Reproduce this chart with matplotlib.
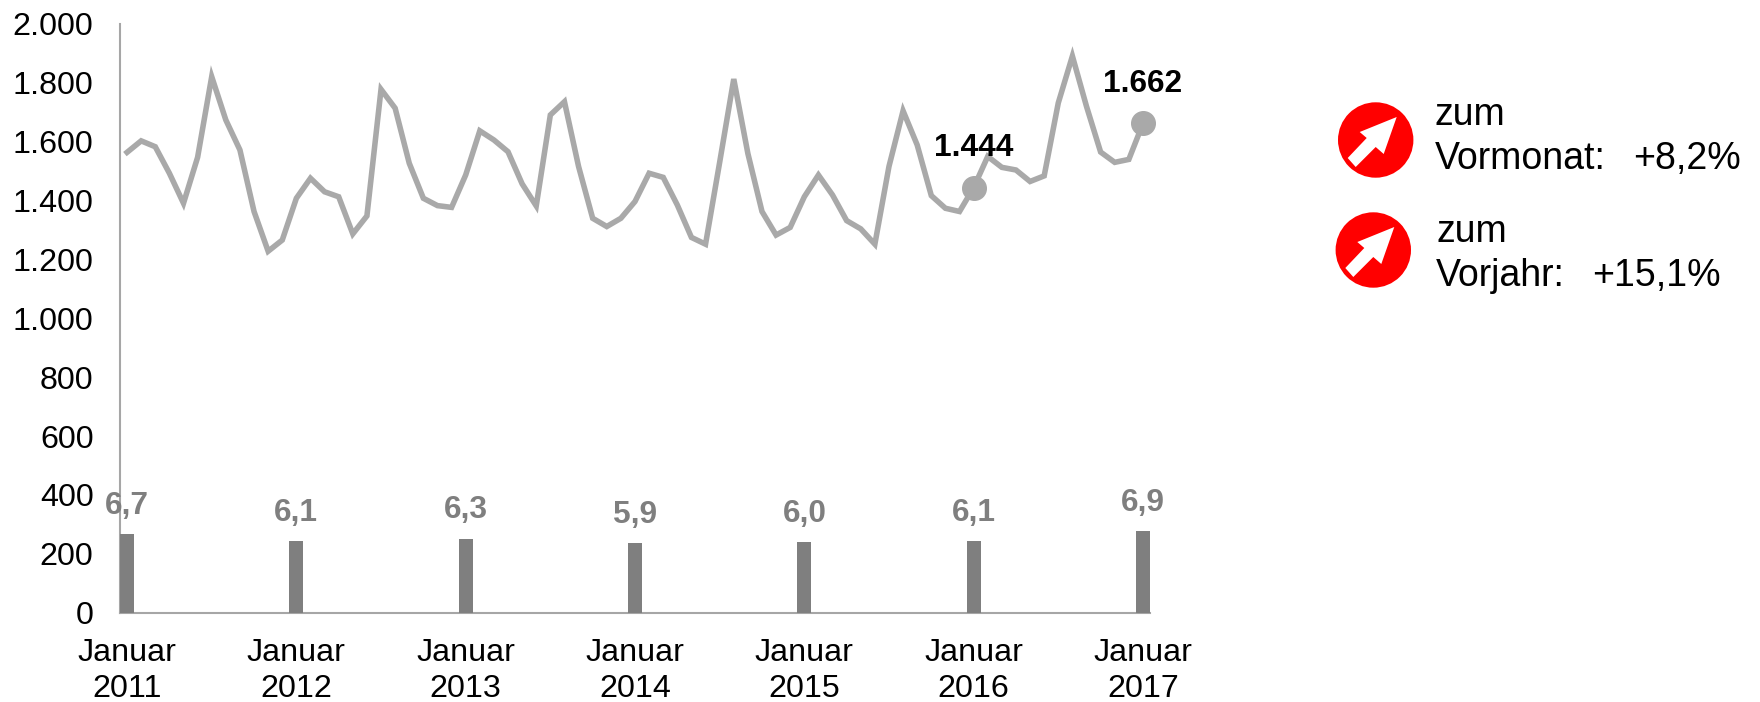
import matplotlib
matplotlib.use("Agg")
import matplotlib.pyplot as plt
from matplotlib.patches import Circle, Polygon

plt.rcParams['font.family'] = ['Liberation Sans', 'DejaVu Sans']

monthly_values = [
    1564, 1603, 1583, 1493, 1391, 1547, 1821, 1674, 1572, 1363, 1228, 1266,
    1408, 1476, 1430, 1413, 1287, 1348, 1778, 1714, 1527, 1408, 1383, 1377,
    1487, 1637, 1606, 1566, 1457, 1382, 1691, 1736, 1516, 1340, 1312, 1340,
    1397, 1493, 1479, 1385, 1275, 1252, 1530, 1813, 1560, 1363, 1283, 1309,
    1413, 1487, 1419, 1332, 1304, 1252, 1516, 1705, 1589, 1417, 1374, 1363,
    1444, 1550, 1513, 1504, 1465, 1484, 1732, 1891, 1720, 1565, 1530, 1540,
    1662,
]
january_rates = [6.7, 6.1, 6.3, 5.9, 6.0, 6.1, 6.9]
january_rate_labels = ['6,7', '6,1', '6,3', '5,9', '6,0', '6,1', '6,9']
january_positions = [0, 12, 24, 36, 48, 60, 72]
x_labels = ['Januar\n2011', 'Januar\n2012', 'Januar\n2013', 'Januar\n2014',
            'Januar\n2015', 'Januar\n2016', 'Januar\n2017']
y_ticks = [0, 200, 400, 600, 800, 1000, 1200, 1400, 1600, 1800, 2000]
y_labels = ['0', '200', '400', '600', '800', '1.000', '1.200', '1.400',
            '1.600', '1.800', '2.000']
highlight_positions = [60, 72]
highlight_labels = ['1.444', '1.662']

W, H = 1760, 702
LINE = '#a9a9a9'
BAR = '#7f7f7f'
FS = 23.2
FS_SIDE = 27
FS_BOLD = 22.8

fig = plt.figure(figsize=(W / 100, H / 100), dpi=100, facecolor='white')
ax = fig.add_axes([120 / W, (H - 612.7) / H, (1150 - 120) / W, (612.7 - 24) / H])
ax.set_xlim(-0.5, 72.5)
ax.set_ylim(0, 2000)
months = list(range(len(monthly_values)))
ax.plot(months, monthly_values, color=LINE, lw=4, solid_joinstyle='miter', zorder=2)
ax.plot(highlight_positions, [monthly_values[i] for i in highlight_positions],
        ls='none', marker='o', ms=17, mfc=LINE, mec=LINE, zorder=3, clip_on=False)
for p, t in zip(highlight_positions, highlight_labels):
    ax.annotate(t, (p, monthly_values[p]), xytext=(0, 17.5), textcoords='offset points',
                ha='center', va='bottom', fontsize=FS_BOLD, fontweight='bold',
                color='black', zorder=4)

for s in ('top', 'right'):
    ax.spines[s].set_visible(False)
for s in ('left', 'bottom'):
    ax.spines[s].set_color('#a6a6a6')
    ax.spines[s].set_linewidth(1.5)
ax.set_yticks(y_ticks, y_labels)
ax.set_xticks(january_positions, x_labels)
ax.tick_params(axis='y', length=0, pad=19, labelsize=FS, labelcolor='black')
ax.tick_params(axis='x', length=0, pad=18, labelsize=FS, labelcolor='black')
for lab in ax.get_xticklabels():
    lab.set_linespacing(1.28)

ax2 = ax.twinx()
ax2.set_ylim(0, 50)
ax2.set_yticks([])
for s in ax2.spines.values():
    s.set_visible(False)
ax2.patch.set_visible(False)
ax2.bar(january_positions, january_rates, width=1.0, color=BAR, zorder=2)
for p, r, t in zip(january_positions, january_rates, january_rate_labels):
    ax2.annotate(t, (p, r), xytext=(0, 9.5), textcoords='offset points', ha='center',
                 va='bottom', fontsize=FS_BOLD, fontweight='bold', color=BAR, zorder=5)

# Overlay in pixel coordinates for the two indicator badges and their text
ov = fig.add_axes([0, 0, 1, 1])
ov.set_xlim(0, W)
ov.set_ylim(H, 0)
ov.axis('off')
ov.patch.set_visible(False)
arrow = [(21, -23), (-16, -8), (-9, -2), (-28, 18), (-20, 27), (0, 7), (8, 14)]
for cx, cy in [(1375.7, 140), (1373.3, 250)]:
    ov.add_patch(Circle((cx, cy), 37.7, fc='#ff0000', ec='none'))
    ov.add_patch(Polygon([(cx + a, cy + b) for a, b in arrow], closed=True, fc='white', ec='none'))

txt = dict(fontsize=FS_SIDE, color='black', va='baseline')
ov.text(1435, 125, 'zum', ha='left', **txt)
ov.text(1435, 169, 'Vormonat:', ha='left', **txt)
ov.text(1741, 169, '+8,2%', ha='right', **txt)
ov.text(1436, 242, 'zum', ha='left', **txt)
ov.text(1436, 286, 'Vorjahr:', ha='left', **txt)
ov.text(1721, 286, '+15,1%', ha='right', **txt)

fig.savefig('out.png', dpi=100, facecolor='white')
